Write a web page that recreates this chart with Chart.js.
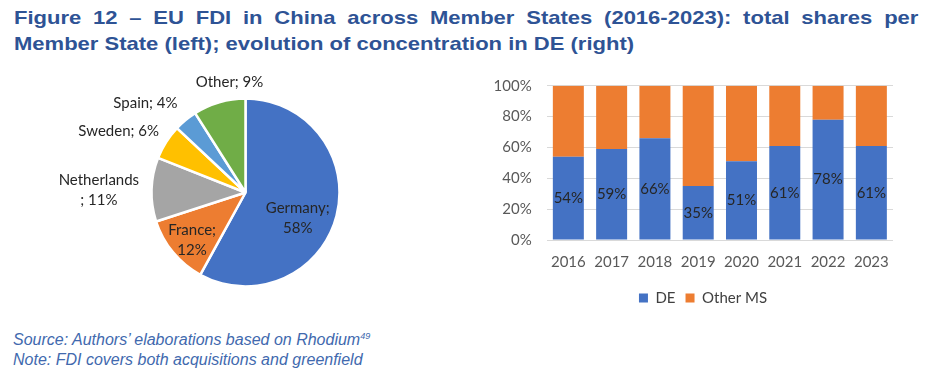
<!DOCTYPE html>
<html>
<head>
<meta charset="utf-8">
<script src="https://cdn.jsdelivr.net/npm/chart.js@4.4.1/dist/chart.umd.min.js"></script>
<style>
  html, body { margin: 0; padding: 0; background: #ffffff; }
  body { width: 934px; height: 383px; position: relative; overflow: hidden; }
  .title { position: absolute; left: 14px; font-family: "Liberation Sans", Arial, sans-serif; font-weight: bold; font-size: 18.5px; line-height: 26px; color: #2E5395; white-space: nowrap; transform: scaleX(1.19); transform-origin: 0 0; }
  .t1 { top: 5px; width: 760px; text-align: justify; text-align-last: justify; white-space: normal; }
  .t2 { top: 31px; }
  .notes { position: absolute; left: 13px; top: 330px; font-family: "Liberation Sans", Arial, sans-serif; font-style: italic; font-size: 16px; line-height: 20px; color: #4169AE; }
  .notes sup { font-size: 9px; vertical-align: 6px; line-height: 0; }
  #pie { position: absolute; left: 40px; top: 70px; }
  #bar { position: absolute; left: 480px; top: 70px; }
</style>
</head>
<body>
<div class="title t1">Figure 12 – EU FDI in China across Member States (2016-2023): total shares per</div>
<div class="title t2">Member State (left); evolution of concentration in DE (right)</div>
<canvas id="pie" width="411" height="245"></canvas>
<canvas id="bar" width="440" height="250"></canvas>
<div class="notes">Source: Authors’ elaborations based on Rhodium<sup>49</sup><br>Note: FDI covers both acquisitions and greenfield</div>
<script>
// ---- data ----
const pieCategories = ['Germany', 'France', 'Netherlands', 'Sweden', 'Spain', 'Other'];
const pieShares = [58, 12, 11, 6, 4, 9];
const years = ['2016', '2017', '2018', '2019', '2020', '2021', '2022', '2023'];
const deShares = [54, 59, 66, 35, 51, 61, 78, 61];
const otherMsShares = [46, 41, 34, 65, 49, 39, 22, 39];
const seriesNames = ['DE', 'Other MS'];
const yTickValues = [0, 20, 40, 60, 80, 100];

// ---- styles ----
const pieColors = ['#4472C4', '#ED7D31', '#A5A5A5', '#FFC000', '#5B9BD5', '#70AD47'];
const barColors = ['#4472C4', '#ED7D31'];
// label placement relative to each slice: radius factor, angle shift (deg), line break style
const pieLabelStyle = [
  { k: 0.62, shift: 12, brk: 'after' },
  { k: 0.76, shift: -2, brk: 'after' },
  { k: 1.56, shift: -1, brk: 'before' },
  { k: 1.50, shift: -6.5, brk: 'none' },
  { k: 1.43, shift: -8.5, brk: 'none' },
  { k: 1.19, shift: 8, brk: 'none' }
];
const labelFont = '15px Lato';
const labelColor = '#262626';
const legendShift = 33;

Chart.defaults.font.family = 'Lato';
Chart.defaults.color = '#595959';

function pieLabelLines(i) {
  const name = pieCategories[i], val = pieShares[i] + '%';
  const b = pieLabelStyle[i].brk;
  if (b === 'after') return [name + ';', val];
  if (b === 'before') return [name, '; ' + val];
  return [name + '; ' + val];
}

const pieLabelPlugin = {
  id: 'pieLabels',
  afterDatasetsDraw(chart) {
    const ctx = chart.ctx;
    const meta = chart.getDatasetMeta(0);
    ctx.save();
    ctx.font = labelFont;
    ctx.fillStyle = labelColor;
    ctx.textAlign = 'center';
    ctx.textBaseline = 'middle';
    meta.data.forEach((arc, i) => {
      const p = arc.getProps(['x', 'y', 'startAngle', 'endAngle', 'outerRadius'], true);
      const st = pieLabelStyle[i];
      const mid = (p.startAngle + p.endAngle) / 2 + st.shift * Math.PI / 180;
      const cx = p.x + Math.cos(mid) * p.outerRadius * st.k;
      const cy = p.y + Math.sin(mid) * p.outerRadius * st.k;
      const lines = pieLabelLines(i);
      const lh = 20;
      lines.forEach((ln, j) => {
        ctx.fillText(ln, cx, cy + (j - (lines.length - 1) / 2) * lh);
      });
    });
    ctx.restore();
  }
};

new Chart(document.getElementById('pie'), {
  type: 'pie',
  data: {
    labels: pieCategories,
    datasets: [{
      data: pieShares,
      backgroundColor: pieColors,
      borderColor: '#ffffff',
      borderWidth: 2.5,
      radius: 94
    }]
  },
  options: {
    responsive: false,
    animation: false,
    layout: { padding: 0 },
    plugins: { legend: { display: false }, tooltip: { enabled: false } }
  },
  plugins: [pieLabelPlugin]
});

const barLabelPlugin = {
  id: 'barLabels',
  afterLayout(chart) {
    if (chart.legend) chart.legend.left += legendShift;
  },
  afterDatasetsDraw(chart) {
    const ctx = chart.ctx;
    const meta = chart.getDatasetMeta(0);
    ctx.save();
    ctx.font = labelFont;
    ctx.fillStyle = labelColor;
    ctx.textAlign = 'center';
    ctx.textBaseline = 'middle';
    meta.data.forEach((bar, i) => {
      const p = bar.getProps(['x', 'y', 'base'], true);
      ctx.fillText(deShares[i] + '%', p.x, (p.y + p.base) / 2);
    });
    ctx.restore();
  }
};

new Chart(document.getElementById('bar'), {
  type: 'bar',
  data: {
    labels: years,
    datasets: [
      { label: seriesNames[0], data: deShares, backgroundColor: barColors[0], borderWidth: 0 },
      { label: seriesNames[1], data: otherMsShares, backgroundColor: barColors[1], borderWidth: 0 }
    ]
  },
  options: {
    responsive: false,
    animation: false,
    layout: { padding: { left: 0, top: 15.7, right: 27, bottom: 4.5 } },
    datasets: { bar: { barPercentage: 0.716, categoryPercentage: 1 } },
    scales: {
      x: {
        stacked: true,
        grid: { display: false, drawTicks: false },
        border: { display: false },
        ticks: { padding: 13, font: { size: 15 }, color: '#595959' },
        afterFit(scale) { scale.height = 40.5; scale.paddingLeft = 0; scale.paddingRight = 0; }
      },
      y: {
        stacked: true,
        min: 0, max: 100,
        afterBuildTicks(scale) { scale.ticks = yTickValues.map(v => ({ value: v })); },
        grid: { color: '#D9D9D9', lineWidth: 1, drawTicks: false },
        border: { display: false },
        ticks: { padding: 15, font: { size: 15 }, color: '#595959', callback: v => v + '%' },
        afterFit(scale) { scale.width = 66.7; scale.paddingTop = 0; scale.paddingBottom = 0; }
      }
    },
    plugins: {
      tooltip: { enabled: false },
      legend: {
        position: 'bottom',
        labels: { boxWidth: 9, boxHeight: 9, font: { size: 15 }, color: '#404040', padding: 10 }
      }
    }
  },
  plugins: [barLabelPlugin]
});
</script>
</body>
</html>
